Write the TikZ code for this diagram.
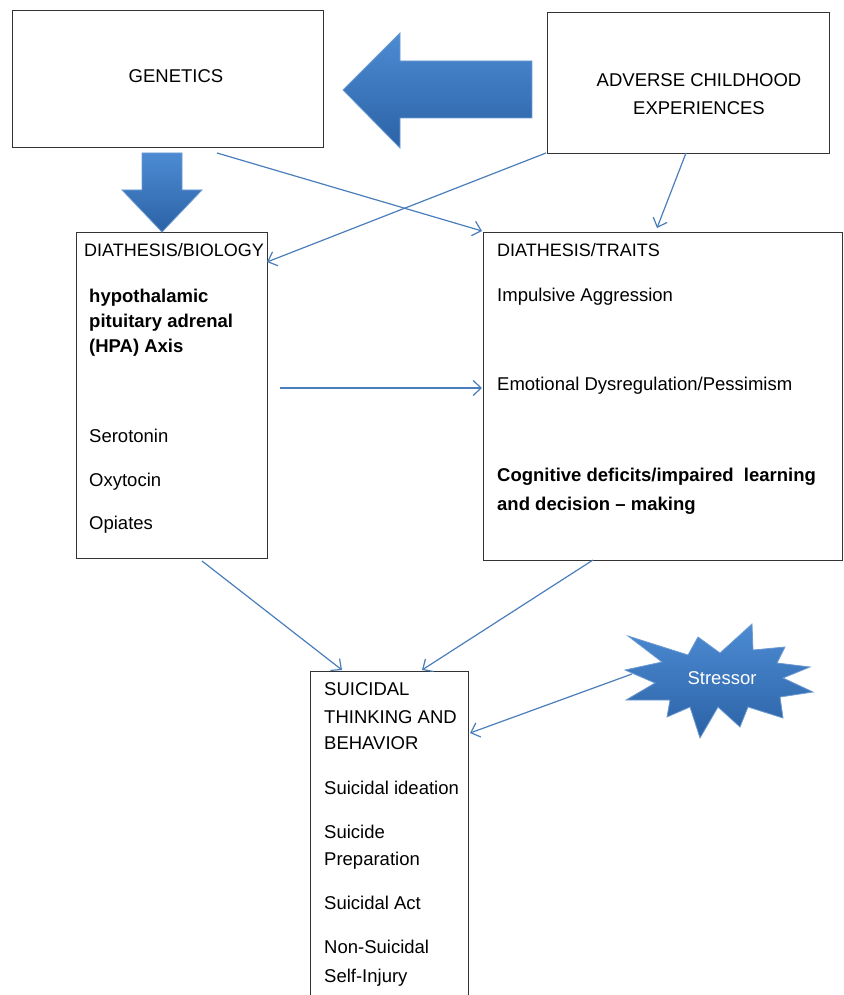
\documentclass[tikz,border=0pt]{standalone}
\usepackage{fontspec}
\setmainfont{Liberation Sans}
\usetikzlibrary{arrows.meta}
\definecolor{lnblue}{HTML}{4A7EBB}
\definecolor{fillTop}{HTML}{4C8BD2}
\definecolor{fillBot}{HTML}{2C62A6}
\definecolor{edgeBlue}{HTML}{6C9BD2}
\definecolor{boxline}{HTML}{333333}
\tikzset{
  box/.style={draw=boxline, line width=0.9pt, fill=none, inner sep=0pt},
  txt/.style={anchor=base west, inner sep=0pt, font=\fontsize{18.5}{27}\selectfont},
  ttxt/.style={txt, font=\fontsize{18}{27}\selectfont},
  btxt/.style={txt, font=\fontsize{18.5}{27}\selectfont\bfseries},
  link/.style={draw=lnblue, line width=1.2pt, -{Straight Barb[length=8pt,width=15pt,line width=1.2pt]}},
  bigarrow/.style={top color=fillTop, bottom color=fillBot, draw=edgeBlue, line width=0.8pt}
}
\begin{document}
\begin{tikzpicture}[x=1pt,y=-1pt]
\useasboundingbox (0,0) rectangle (843,995);
% boxes
\node[box, minimum width=311pt, minimum height=137pt] (gen) at (167.5,78.5) {};
\node[box, minimum width=282pt, minimum height=141pt] (ace) at (688,82.5) {};
\node[box, minimum width=191pt, minimum height=326pt] (bio) at (171.5,395) {};
\node[box, minimum width=359pt, minimum height=328pt] (tra) at (662.5,396) {};
\node[inner sep=0pt, minimum width=157pt, minimum height=340pt] (sui) at (389.5,842) {};
\draw[draw=boxline, line width=0.9pt] (sui.south west) -- (sui.north west) -- (sui.north east) -- (sui.south east);
% big arrows
\draw[bigarrow] (343,90) -- (400,33) -- (400,61) -- (532,61) -- (532,118) -- (400,118) -- (400,148) -- cycle;
\draw[bigarrow] (142,153) -- (182,153) -- (182,190) -- (202,190) -- (162,232) -- (122,190) -- (142,190) -- cycle;
% stressor
\draw[bigarrow] (628,636) -- (688,655) -- (698,637) -- (720,653) -- (752,624) -- (753,650) -- (785,647) -- (777,663) -- (810,667) -- (783,678) -- (813,692) -- (780,697) -- (783,718) -- (748,707) -- (740,727) -- (718,707) -- (700,738) -- (690,707) -- (667,717) -- (670,700) -- (626,700) -- (655,683) -- (625,670) -- (662,662) -- cycle;
\node[txt, anchor=base, text=white] (str) at (722,684) {Stressor};
% texts
\node[txt, anchor=base] (t1) at (176,83) {GENETICS};
\node[txt, anchor=base] (t2) at (699,87) {ADVERSE CHILDHOOD};
\node[txt, anchor=base] (t3) at (699,115) {EXPERIENCES};
\node[ttxt] (b1) at (84,256) {DIATHESIS/BIOLOGY};
\node[btxt] (b2) at (89,302) {hypothalamic};
\node[btxt] (b3) at (89,327) {pituitary adrenal};
\node[btxt] (b4) at (89,352) {(HPA) Axis};
\node[txt] (b5) at (89,442) {Serotonin};
\node[txt] (b6) at (89,486) {Oxytocin};
\node[txt] (b7) at (89,529) {Opiates};
\node[ttxt] (r1) at (497,256) {DIATHESIS/TRAITS};
\node[txt] (r2) at (497,301) {Impulsive Aggression};
\node[txt] (r3) at (497,390) {Emotional Dysregulation/Pessimism};
\node[btxt] (r4) at (497,481) {Cognitive deficits/impaired\ \ learning};
\node[btxt] (r5) at (497,510) {and decision -- making};
\node[txt] (s1) at (324,695) {SUICIDAL};
\node[txt] (s2) at (324,723) {THINKING AND};
\node[txt] (s3) at (324,749) {BEHAVIOR};
\node[txt] (s4) at (324,794) {Suicidal ideation};
\node[txt] (s5) at (324,838) {Suicide};
\node[txt] (s6) at (324,865) {Preparation};
\node[txt] (s7) at (324,909) {Suicidal Act};
\node[txt] (s8) at (324,953) {Non-Suicidal};
\node[txt] (s9) at (324,982) {Self-Injury};
% connector endpoints
\coordinate (c1a) at (217,153);
\coordinate (c1b) at (482,231);
\coordinate (c2a) at (546,153);
\coordinate (c2b) at (267,262);
\coordinate (c3a) at (686,153);
\coordinate (c3b) at (657,228);
\coordinate (c4a) at (280,388);
\coordinate (c4b) at (482,388);
\coordinate (c5a) at (202,561);
\coordinate (c5b) at (342,670);
\coordinate (c6a) at (593,560);
\coordinate (c6b) at (422,670);
\coordinate (c7a) at (632,674);
\coordinate (c7b) at (470,733);
\draw[link] (c1a) -- (c1b);
\draw[link] (c2a) -- (c2b);
\draw[link] (c3a) -- (c3b);
\draw[link] (c4a) -- (c4b);
\draw[link] (c5a) -- (c5b);
\draw[link] (c6a) -- (c6b);
\draw[link] (c7a) -- (c7b);
\end{tikzpicture}
\end{document}
